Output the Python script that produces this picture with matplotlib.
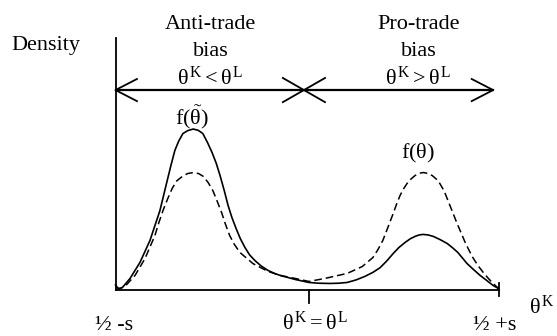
import numpy as np
import matplotlib
matplotlib.use('Agg')
import matplotlib.pyplot as plt

plt.rcParams['font.family'] = ['Liberation Serif', 'DejaVu Serif']
plt.rcParams['mathtext.fontset'] = 'custom'
plt.rcParams['mathtext.rm'] = 'Liberation Serif'
plt.rcParams['mathtext.it'] = 'Liberation Serif'
plt.rcParams['mathtext.bf'] = 'Liberation Serif:bold'

# theta^K on a 0..100 scale (0 = 1/2 - s, 100 = 1/2 + s), density on 0..100
x_solid = [0, 0.8, 1.8, 3.8, 6.4, 9.0, 11.6, 13.5, 14.5, 15.5, 16.5, 17.6,
           18.9, 20.3, 21.6, 22.8, 24.0, 25.2, 26.3, 27.3, 28.4, 29.4, 30.4,
           31.5, 32.6, 33.8, 35.0, 36.4, 38.0, 39.8, 41.5, 43.0, 46.9, 50.5,
           53.0, 56.0, 58.3, 60.5, 62.8, 65.1, 67.2, 69.1, 70.8, 72.5, 74.0,
           75.6, 77.0, 78.2, 79.3, 80.3, 81.6, 83.0, 84.8, 86.6, 88.0, 89.4,
           90.6, 91.8, 93.5, 95.2, 97.0, 98.6, 100]
y_solid = [1.8, 0.2, 0.8, 4.4, 10.8, 19.5, 31.4, 43.3, 49.5, 55.3, 59.0, 62.0,
           63.2, 63.8, 63.3, 62.0, 58.5, 54.5, 50.2, 45.3, 39.3, 33.4, 28.6,
           24.2, 20.2, 16.7, 13.8, 11.5, 9.4, 7.6, 6.4, 5.6, 4.0, 2.8,
           2.5, 2.4, 2.5, 2.8, 3.8, 5.2, 6.8, 8.7, 11.3, 14.3, 16.7,
           18.7, 20.2, 21.1, 21.7, 21.9, 21.7, 21.1, 19.8, 18.3, 16.6, 14.7,
           12.5, 10.3, 7.9, 5.6, 3.5, 1.6, 0.4]

x_dash = [0, 1.2, 2.7, 5.1, 7.7, 10.3, 11.3, 12.4, 13.6, 14.8, 16.0, 17.4,
          18.8, 20.3, 21.7, 23.0, 24.2, 25.4, 26.5, 27.7, 28.7, 29.8, 31.0,
          32.5, 35.9, 39.8, 43.0, 46.9, 50.5, 54.7, 60.5, 64.4, 67.2, 68.5,
          69.8, 71.2, 72.5, 73.4, 74.3, 75.2, 76.1, 77.2, 78.2, 79.3, 80.3,
          81.5, 82.7, 83.7, 84.7, 85.8, 86.8, 88.0, 89.2, 90.3, 91.3, 92.3,
          93.3, 94.6, 96.0, 97.3, 98.6, 100]
y_dash = [0.8, 0.4, 1.6, 5.6, 12.3, 21.5, 26.5, 31.4, 36.0, 40.2, 43.2, 44.9,
          46.1, 46.5, 46.1, 44.9, 42.5, 39.4, 35.3, 30.6, 26.0, 21.5, 18.0,
          14.7, 10.3, 7.2, 5.6, 4.4, 3.2, 4.4, 6.4, 9.1, 12.7, 15.8,
          19.5, 25.0, 30.2, 34.0, 37.4, 40.0, 42.1, 44.0, 45.3, 46.2, 46.5,
          46.2, 45.3, 44.0, 42.1, 39.2, 35.4, 30.8, 26.2, 22.3, 18.7, 15.6,
          12.7, 9.6, 6.8, 4.5, 2.4, 0.4]

x_ticks = [50.5, 100]
x_tick_labels = ['\u00bd -s', r'$\theta^{\mathrm{K}} = \theta^{\mathrm{L}}$', '\u00bd +s']
x_tick_label_pos = [-0.4, 52.1, 99.1]

fig = plt.figure(figsize=(5.57, 3.36), dpi=100)
ax = fig.add_axes([0, 0, 1, 1])
ax.set_xlim(-115.5 / 3.83, (557 - 115.5) / 3.83)
ax.set_ylim(-46.5 / 2.515, (336 - 46.5) / 2.515)
ax.axis('off')

k = 'black'
lw_ax = 1.3
# axes
ax.plot([0, 0], [0, 100], color=k, lw=lw_ax)
ax.plot([0, 100], [0, 0], color=k, lw=lw_ax)
ax.plot([x_ticks[0], x_ticks[0]], [0, -5.4], color=k, lw=lw_ax)
ax.plot([x_ticks[1], x_ticks[1]], [2.6, -2.6], color=k, lw=lw_ax)

# curves
ax.plot(x_solid, y_solid, color=k, lw=1.2, solid_joinstyle='round')
ax.plot(x_dash, y_dash, color=k, lw=1.1, dashes=(5, 2.6), dash_joinstyle='round')

# arrow across the top
ay = 79.3
hl, hh = 5.6, 4.4
ax.plot([0, 98.6], [ay, ay], color=k, lw=1.6)
ax.plot([hl, 0, hl], [ay + hh, ay, ay - hh], color=k, lw=1.3)
ax.plot([98.6 - hl, 98.6, 98.6 - hl], [ay + hh, ay, ay - hh], color=k, lw=1.3)
cx, dx, dy = 49.2, 5.5, 4.8
ax.plot([cx - dx, cx + dx], [ay + dy, ay - dy], color=k, lw=1.3)
ax.plot([cx - dx, cx + dx], [ay - dy, ay + dy], color=k, lw=1.3)

fs = 16
ax.text(-18.1, 95.2, 'Density', fontsize=fs, ha='center', va='baseline')
ax.text(24.8, 103.6, 'Anti-trade', fontsize=fs, ha='center', va='baseline')
ax.text(24.8, 92.8, 'bias', fontsize=fs, ha='center', va='baseline')
ax.text(24.8, 81.3, r'$\theta^{\mathrm{K}}<\theta^{\mathrm{L}}$', fontsize=fs, ha='center', va='baseline')
ax.text(79.2, 103.6, 'Pro-trade', fontsize=fs, ha='center', va='baseline')
ax.text(79.2, 92.8, 'bias', fontsize=fs, ha='center', va='baseline')
ax.text(79.0, 81.3, r'$\theta^{\mathrm{K}}>\theta^{\mathrm{L}}$', fontsize=fs, ha='center', va='baseline')
ax.text(20.0, 63.0, r'$\mathrm{f(\tilde{\theta})}$', fontsize=fs, ha='center', va='bottom')
ax.text(79.0, 49.5, r'$\mathrm{f(\theta)}$', fontsize=fs, ha='center', va='bottom')

for lab, xp in zip(x_tick_labels, x_tick_label_pos):
    ax.text(xp, -16.2, lab, fontsize=fs, ha='center', va='baseline')
ax.text(111.3, -9.7, r'$\theta^{\mathrm{K}}$', fontsize=fs, ha='center', va='baseline')

fig.savefig('out.png', dpi=100)
